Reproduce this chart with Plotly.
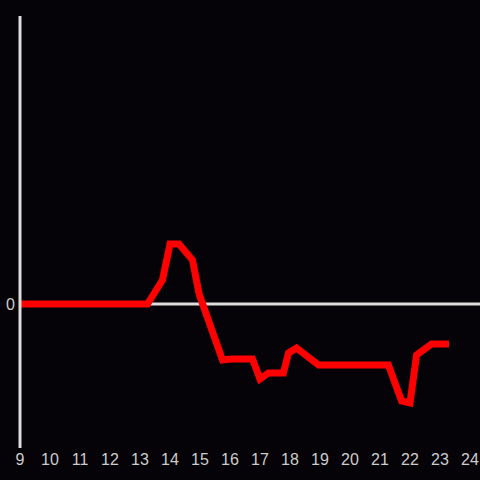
import plotly.graph_objects as go

hours = [9.0, 13.25, 13.75, 14.0, 14.3, 14.75, 14.97, 15.75, 16.05, 16.75, 17.0, 17.28,
         17.78, 17.95, 18.22, 18.95, 21.28, 21.72, 22.0, 22.22, 22.72, 23.3]
values = [0, 0, 24, 60, 60, 44, 10, -56, -55, -55, -75, -69,
          -69, -49, -44, -61, -61, -97, -99, -51, -40, -40]
x_ticks = list(range(9, 25))

bg = "#050307"
axis_col = "#dddddd"
text_col = "#cccccc"

fig = go.Figure()
fig.add_trace(go.Scatter(x=hours, y=values, mode="lines",
                         line=dict(color="#ff0000", width=7),
                         hoverinfo="skip", showlegend=False))

# horizontal zero line (below the data line)
fig.add_shape(type="line", xref="paper", yref="y", x0=0, x1=1.03, y0=0, y1=0,
              line=dict(color=axis_col, width=3), layer="below")
# vertical axis line at the left edge (x = 9), above the data line
fig.add_shape(type="line", xref="paper", yref="paper", x0=0, x1=0, y0=0, y1=1,
              line=dict(color=axis_col, width=3), layer="above")

fig.update_layout(
    width=480, height=480,
    paper_bgcolor=bg, plot_bgcolor=bg,
    margin=dict(l=20, r=10, t=16, b=32, autoexpand=False),
    font=dict(family="Liberation Sans, Arial, sans-serif", size=16, color=text_col),
    xaxis=dict(range=[9, 24], tickvals=x_ticks, ticktext=[str(t) for t in x_ticks],
               showgrid=False, zeroline=False, showline=False, ticks="",
               automargin=False),
    yaxis=dict(range=[-144, 288], tickvals=[0], ticktext=["0"], showgrid=False,
               zeroline=False, showline=False, ticks="", ticklabelstandoff=4,
               automargin=False),
)

fig.write_html("out.html", config={"displayModeBar": False},
               post_script="document.body.style.margin='0';document.body.style.background='%s';" % bg)
